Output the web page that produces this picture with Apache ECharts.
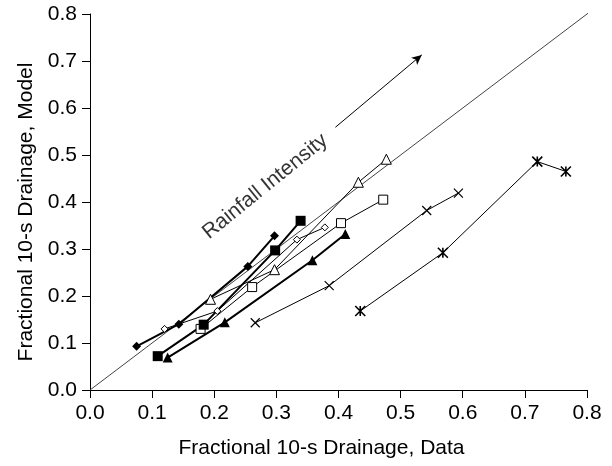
<!DOCTYPE html>
<html>
<head>
<meta charset="utf-8">
<script src="https://cdn.jsdelivr.net/npm/echarts@6/dist/echarts.min.js"></script>
<style>
html,body{margin:0;padding:0;background:#fff;}
#chart{width:612px;height:466px;}
</style>
</head>
<body>
<div id="chart"></div>
<script>
// ---- data ----
const xTicks = [0.0, 0.1, 0.2, 0.3, 0.4, 0.5, 0.6, 0.7, 0.8];
const yTicks = [0.0, 0.1, 0.2, 0.3, 0.4, 0.5, 0.6, 0.7, 0.8];

const diamondFilledX = [0.075, 0.143, 0.254, 0.297];
const diamondFilledY = [0.093, 0.140, 0.263, 0.328];

const squareFilledX = [0.109, 0.183, 0.298, 0.339];
const squareFilledY = [0.072, 0.139, 0.297, 0.360];

const triangleFilledX = [0.125, 0.217, 0.358, 0.411];
const triangleFilledY = [0.069, 0.144, 0.276, 0.332];

const diamondOpenX = [0.120, 0.205, 0.333, 0.378];
const diamondOpenY = [0.130, 0.168, 0.320, 0.346];

const triangleOpenX = [0.194, 0.297, 0.432, 0.477];
const triangleOpenY = [0.193, 0.256, 0.442, 0.491];

const squareOpenX = [0.178, 0.261, 0.404, 0.472];
const squareOpenY = [0.130, 0.219, 0.355, 0.405];

const crossX = [0.266, 0.385, 0.542, 0.593];
const crossY = [0.143, 0.222, 0.382, 0.419];

const starX = [0.435, 0.568, 0.720, 0.766];
const starY = [0.168, 0.292, 0.486, 0.465];

const diagonalX = [0.0, 0.81];
const diagonalY = [0.0, 0.81];

const arrowStart = [0.395, 0.559];
const arrowEnd = [0.534, 0.713];

const annotationText = 'Rainfall Intensity';
const annotationPos = [0.282, 0.433];

const xTitle = 'Fractional 10-s Drainage, Data';
const yTitle = 'Fractional 10-s Drainage, Model';

// ---- build ----
const FONT = '"Liberation Sans", Arial, Helvetica, sans-serif';
function pairs(xs, ys) { return xs.map((x, i) => [x, ys[i]]); }

const crossPath = 'path://M0,0L10,10M10,0L0,10';
const starPath = 'path://M0,0L10,10M10,0L0,10M5,0L5,10';

function mkSeries(xs, ys, symbol, size, filled, lineW) {
  return {
    type: 'line',
    data: pairs(xs, ys),
    symbol: symbol,
    symbolSize: size,
    showAllSymbol: true,
    lineStyle: { color: '#000', width: lineW },
    itemStyle: filled
      ? { color: '#000', borderColor: '#000', borderWidth: 0 }
      : { color: '#fff', borderColor: '#000', borderWidth: 1 },
    emphasis: { disabled: true },
    animation: false,
    z: 3
  };
}

const series = [
  {
    type: 'line',
    data: pairs(diagonalX, diagonalY),
    symbol: 'none',
    clip: false,
    lineStyle: { color: '#444', width: 1 },
    animation: false,
    z: 2,
    markLine: {
      silent: true,
      symbol: ['none', 'arrow'],
      symbolSize: [7, 10],
      label: { show: false },
      lineStyle: { color: '#000', width: 1, type: 'solid' },
      data: [[{ coord: arrowStart }, { coord: arrowEnd }]],
      animation: false
    }
  },
  mkSeries(diamondOpenX, diamondOpenY, 'diamond', 7, false, 1),
  mkSeries(triangleOpenX, triangleOpenY, 'triangle', 10, false, 1),
  mkSeries(squareOpenX, squareOpenY, 'rect', 9, false, 1),
  mkSeries(diamondFilledX, diamondFilledY, 'diamond', 9, true, 2),
  mkSeries(squareFilledX, squareFilledY, 'rect', 10, true, 2),
  mkSeries(triangleFilledX, triangleFilledY, 'triangle', 10, true, 2),
  Object.assign(mkSeries(crossX, crossY, crossPath, 9, false, 1), {
    itemStyle: { color: 'none', borderColor: '#000', borderWidth: 1.2 }
  }),
  Object.assign(mkSeries(starX, starY, starPath, 10, false, 1), {
    itemStyle: { color: 'none', borderColor: '#000', borderWidth: 1.6 }
  }),
  {
    type: 'scatter',
    data: [annotationPos],
    symbolSize: 0,
    silent: true,
    animation: false,
    label: {
      show: true,
      position: 'inside',
      formatter: annotationText,
      rotate: 39,
      color: '#000',
      fontFamily: FONT,
      fontSize: 21
    },
    z: 4
  }
];

const chart = echarts.init(document.getElementById('chart'), null, { renderer: 'canvas' });
chart.setOption({
  backgroundColor: '#fff',
  animation: false,
  grid: { left: 90, right: 25, top: 14, bottom: 76, containLabel: false },
  xAxis: {
    type: 'value',
    min: xTicks[0],
    max: xTicks[xTicks.length - 1],
    interval: 0.1,
    name: xTitle,
    nameLocation: 'middle',
    nameGap: 48,
    nameTextStyle: { fontFamily: FONT, fontSize: 21, color: '#000', padding: [0, 34, 0, 0] },
    axisLine: { show: true, onZero: false, lineStyle: { color: '#000', width: 1 } },
    axisTick: { show: true, inside: false, length: 8, lineStyle: { color: '#000' } },
    axisLabel: { margin: 13, fontFamily: FONT, fontSize: 21, color: '#000', formatter: v => v.toFixed(1) },
    splitLine: { show: false }
  },
  yAxis: {
    type: 'value',
    min: yTicks[0],
    max: yTicks[yTicks.length - 1],
    interval: 0.1,
    name: yTitle,
    nameLocation: 'middle',
    nameGap: 50,
    nameRotate: 90,
    nameTextStyle: { fontFamily: FONT, fontSize: 21, color: '#000', padding: [0, 20, 0, 0] },
    axisLine: { show: true, onZero: false, lineStyle: { color: '#000', width: 1 } },
    axisTick: { show: true, inside: false, length: 8, lineStyle: { color: '#000' } },
    axisLabel: { margin: 13, fontFamily: FONT, fontSize: 21, color: '#000', formatter: v => v.toFixed(1) },
    splitLine: { show: false }
  },
  series: series
});
</script>
</body>
</html>
